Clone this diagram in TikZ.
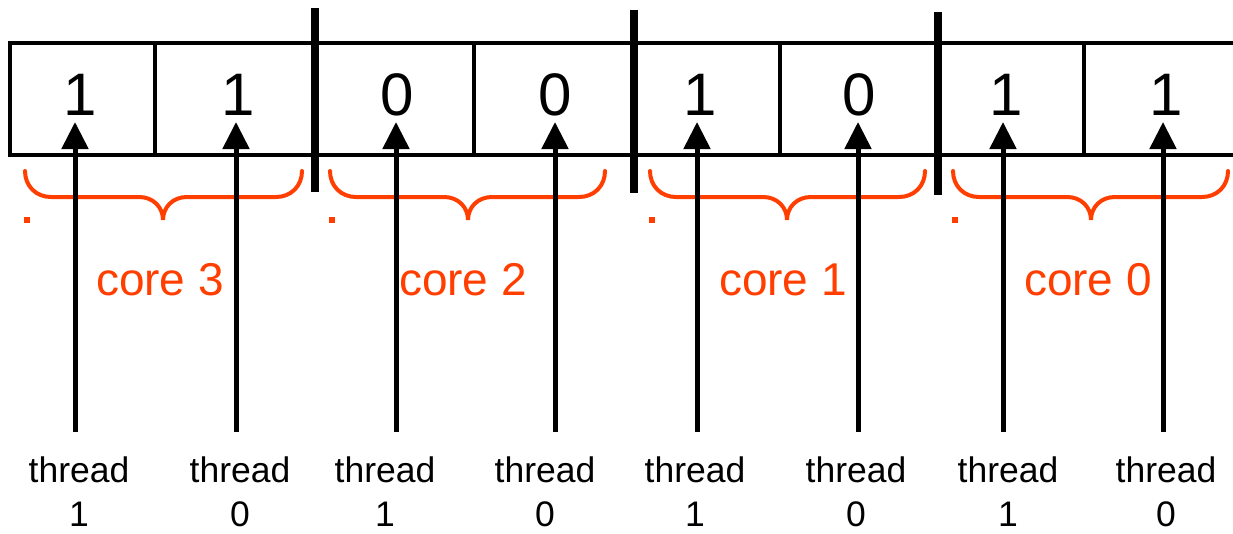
\documentclass[tikz,border=0pt]{standalone}
\usepackage{fontspec}
\setmainfont{Liberation Sans}
\usetikzlibrary{arrows.meta}
\definecolor{coreRed}{RGB}{255,62,0}
\begin{document}
\begin{tikzpicture}[x=1pt,y=-1pt,
  cell/.style={draw=black,line width=4pt,rectangle,inner sep=0pt,minimum height=112pt},
  digit/.style={anchor=base,inner sep=0pt,font=\fontsize{60}{72}\selectfont},
  sepline/.style={line width=7.5pt,black},
  arr/.style={line width=5pt,-{Triangle[length=27pt,width=26pt]}},
  threadlbl/.style={align=center,inner sep=0pt,font=\fontsize{35.5}{44}\selectfont},
  corelbl/.style={anchor=base,inner sep=0pt,text=coreRed,font=\fontsize{46}{55}\selectfont},
  bracestyle/.style={draw=coreRed,line width=4pt,line cap=round},
  dotstyle/.style={fill=coreRed,draw=none,minimum size=6pt,inner sep=0pt,rectangle}]
\useasboundingbox (0,0) rectangle (1233,533);
% cells
\node[cell,minimum width=145pt] (c1) at (82.5,99) {};
\node[cell,minimum width=160pt] (c2) at (235,99) {};
\node[cell,minimum width=159pt] (c3) at (394.5,99) {};
\node[cell,minimum width=160pt] (c4) at (554,99) {};
\node[cell,minimum width=146pt] (c5) at (707,99) {};
\node[cell,minimum width=157pt] (c6) at (858.5,99) {};
\node[cell,minimum width=147pt] (c7) at (1010.5,99) {};
\node[cell,minimum width=166pt] (c8) at (1167,99) {};
% digits
\node[digit] (d1) at (80,115) {1};
\node[digit] (d2) at (238,115) {1};
\node[digit] (d3) at (397,115) {0};
\node[digit] (d4) at (555,115) {0};
\node[digit] (d5) at (700,115) {1};
\node[digit] (d6) at (859,115) {0};
\node[digit] (d7) at (1006,115) {1};
\node[digit] (d8) at (1166,115) {1};
% thick separators
\coordinate (s1t) at (315,8);  \coordinate (s1b) at (315,192);
\coordinate (s2t) at (634,10); \coordinate (s2b) at (634,193);
\coordinate (s3t) at (938,12); \coordinate (s3b) at (938,195);
\draw[sepline] (s1t) -- (s1b);
\draw[sepline] (s2t) -- (s2b);
\draw[sepline] (s3t) -- (s3b);
% braces
\foreach \a/\b/\m in {25/302/163, 330/605/468, 650/925/787, 953/1228/1091}{
  \draw[bracestyle] (\a,171) .. controls (\a,186) and (\a+11,197) .. (\a+26,197)
    -- (\m-24,197) .. controls (\m-10,197) and (\m,207) .. (\m,220)
    .. controls (\m,207) and (\m+10,197) .. (\m+24,197)
    -- (\b-26,197) .. controls (\b-11,197) and (\b,186) .. (\b,171);
}
% dots
\node[dotstyle] (p1) at (27,220) {};
\node[dotstyle] (p2) at (332,220) {};
\node[dotstyle] (p3) at (652,220) {};
\node[dotstyle] (p4) at (955,220) {};
% core labels
\node[corelbl] (k3) at (160,295) {core 3};
\node[corelbl] (k2) at (463,295) {core 2};
\node[corelbl] (k1) at (783,295) {core 1};
\node[corelbl] (k0) at (1088,295) {core 0};
% arrow ends
\foreach \i/\x in {1/75,2/236,3/396,4/555,5/697,6/858,7/1003,8/1163}{
  \coordinate (b\i) at (\x,432);
  \coordinate (t\i) at (\x,122);
}
\foreach \i in {1,...,8}{ \draw[arr] (b\i) -- (t\i); }
% thread labels
\node[threadlbl] (th1) at (79,492) {thread\\1};
\node[threadlbl] (th2) at (240,492) {thread\\0};
\node[threadlbl] (th3) at (385,492) {thread\\1};
\node[threadlbl] (th4) at (545,492) {thread\\0};
\node[threadlbl] (th5) at (695,492) {thread\\1};
\node[threadlbl] (th6) at (856,492) {thread\\0};
\node[threadlbl] (th7) at (1008,492) {thread\\1};
\node[threadlbl] (th8) at (1166,492) {thread\\0};
\end{tikzpicture}
\end{document}
